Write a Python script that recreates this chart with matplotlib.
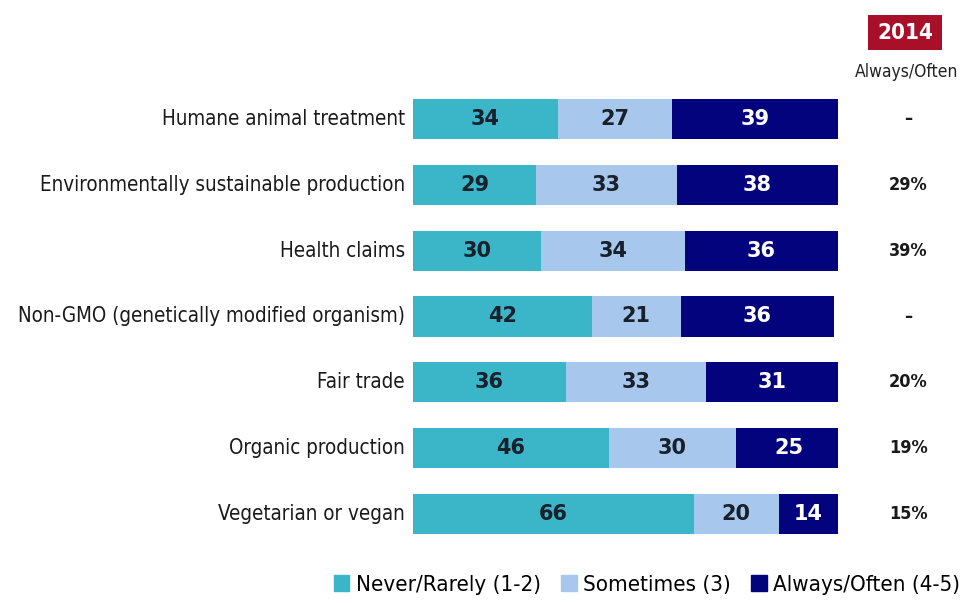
import matplotlib.pyplot as plt
from matplotlib.patches import Rectangle

# survey rows, top to bottom
categories = [
    'Humane animal treatment',
    'Environmentally sustainable production',
    'Health claims',
    'Non-GMO (genetically modified organism)',
    'Fair trade',
    'Organic production',
    'Vegetarian or vegan',
]
never_rarely = [34, 29, 30, 42, 36, 46, 66]
sometimes = [27, 33, 34, 21, 33, 30, 20]
always_often = [39, 38, 36, 36, 31, 25, 14]
prior_2014 = ['–', '29%', '39%', '–', '20%', '19%', '15%']

series_names = ['Never/Rarely (1-2)', 'Sometimes (3)', 'Always/Often (4-5)']
colors = ['#3BB5C8', '#A7C7EC', '#03037E']
text_colors = ['#17202b', '#17202b', 'white']

# narrow sans for the labels
NARROW = dict(family='DejaVu Sans', stretch='condensed')

W, H = 966, 603
fig = plt.figure(figsize=(W / 100, H / 100), dpi=100)
ax = fig.add_axes([413 / W, 1 - 547 / H, 425 / W, 461 / H])

ys = list(range(len(categories)))
left = [0] * len(categories)
for vals, col, tcol in zip([never_rarely, sometimes, always_often], colors, text_colors):
    ax.barh(ys, vals, left=left, height=0.61, color=col, edgecolor='none')
    for y, l, v in zip(ys, left, vals):
        ax.text(l + v / 2, y, str(v), ha='center', va='center', color=tcol,
                fontsize=15, fontweight='bold', family='DejaVu Sans')
    left = [a + b for a, b in zip(left, vals)]

ax.set_xlim(0, 100)
ax.set_ylim(len(categories) - 0.5, -0.5)
ax.axis('off')

# category labels to the left of the bars
for y, name in zip(ys, categories):
    ax.text(-1.9, y, name, ha='right', va='center', fontsize=14.8, color='#1a1a1a', **NARROW)

# 2014 comparison column
for y, val in zip(ys, prior_2014):
    ax.text(116.5, y, val, ha='center', va='center', fontsize=13, fontweight='bold',
            color='#1a1a1a', **NARROW)

fig.patches.append(Rectangle((868 / W, 1 - 50 / H), 74 / W, 35 / H, transform=fig.transFigure,
                             facecolor='#A8102A', edgecolor='none'))
fig.text(905 / W, 1 - 33 / H, '2014', ha='center', va='center', color='white',
         fontsize=16, fontweight='bold', **NARROW)
fig.text(907 / W, 1 - 72 / H, 'Always/Often', ha='center', va='center', color='#222222',
         fontsize=12.5, **NARROW)

# legend along the bottom
handles = [Rectangle((0, 0), 1, 1, color=c) for c in colors]
fig.legend(handles, series_names, loc='center', bbox_to_anchor=(647 / W, 1 - 585 / H), ncol=3,
           frameon=False, handlelength=0.7, handleheight=0.7, handletextpad=0.3,
           columnspacing=0.9, prop={'family': 'DejaVu Sans', 'stretch': 'condensed', 'size': 16})

fig.savefig('out.png', dpi=100, facecolor='white')
